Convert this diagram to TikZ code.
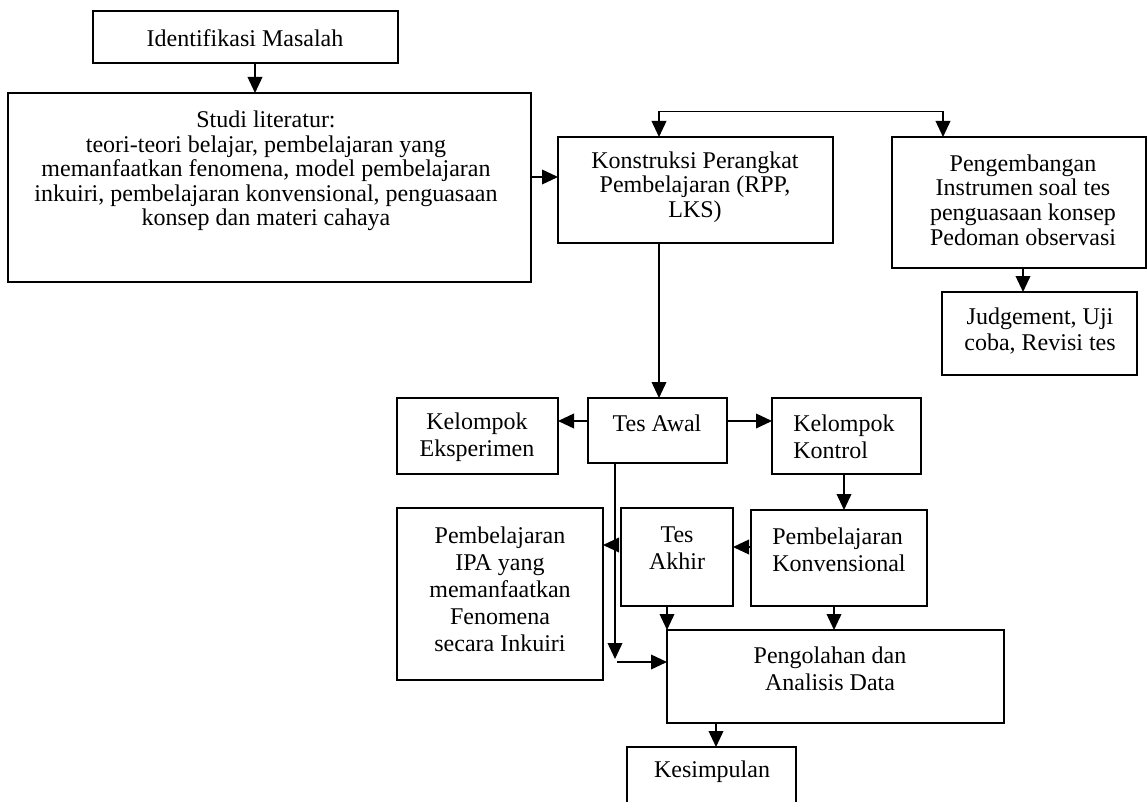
\documentclass[tikz,border=0pt]{standalone}
\usepackage{fontspec}
\setmainfont{Liberation Serif}
\usetikzlibrary{arrows.meta}
\newcommand\mybox[5]{\node[boxs, minimum width={(#4-#2)*0.75pt}, minimum height={(#5-#3)*0.75pt}] (#1) at ({(#2+#4)/2},{(#3+#5)/2}) {};}
\begin{document}
\begin{tikzpicture}[x=0.75pt,y=-0.75pt,
  boxs/.style={draw, line width=1.2pt, inner sep=0pt, outer sep=0pt, rectangle},
  txt/.style={inner sep=0pt, align=center, font=\fontsize{18pt}{18.4pt}\selectfont},
  txtw/.style={inner sep=0pt, align=center, font=\fontsize{18pt}{20.2pt}\selectfont},
  txtl/.style={inner sep=0pt, align=left, anchor=west, font=\fontsize{18pt}{20.2pt}\selectfont},
  arr/.style={line width=1.2pt, -{Triangle[length=12pt,width=11pt]}},
  arrb/.style={line width=1.2pt, {Triangle[length=12pt,width=11pt]}-{Triangle[length=12pt,width=11pt]}},
  ln/.style={line width=1.2pt}]
\useasboundingbox (0,0) rectangle (1148,802);
% boxes
\mybox{idm}{93}{11}{398}{63}
\mybox{studi}{8}{93}{531}{282}
\mybox{kon}{558}{137}{833}{243}
\mybox{peng}{892}{137}{1146}{268}
\mybox{judg}{942}{292}{1137}{375}
\mybox{tesawal}{588}{398}{727}{463}
\mybox{eksp}{397}{398}{558}{474}
\mybox{kontrol}{772}{398}{921}{474}
\mybox{ipa}{397}{508}{603}{680}
\mybox{akhir}{621}{508}{733}{606}
\mybox{konv}{751}{510}{927}{606}
\mybox{olah}{667}{630}{1004}{723}
\coordinate (kesTL) at (627,747);
\coordinate (kesTR) at (796,747);
\coordinate (kesBL) at (627,802);
\coordinate (kesBR) at (796,802);
\draw[ln] (kesBL) -- (kesTL) -- (kesTR) -- (kesBR);
% texts
\node[txt] (idmT) at (245,38) {Identifikasi Masalah};
\node[txt] (studiT) at (266,171) {Studi literatur:\\teori-teori belajar, pembelajaran yang\\memanfaatkan fenomena, model pembelajaran\\inkuiri, pembelajaran konvensional, penguasaan\\konsep dan materi cahaya};
\node[txt] (konT) at (695,187) {Konstruksi Perangkat\\Pembelajaran (RPP,\\LKS)};
\node[txt] (pengT) at (1023,200) {Pengembangan\\Instrumen soal tes\\penguasaan konsep\\Pedoman observasi};
\node[txtw] (judgT) at (1040,331) {Judgement, Uji\\coba, Revisi tes};
\node[txt] (tesawalT) at (657,423) {Tes Awal};
\node[txtw] (ekspT) at (477,437) {Kelompok\\Eksperimen};
\node[txtl] (kontrolT) at (793,437) {Kelompok\\Kontrol};
\node[txtw] (ipaT) at (500,589) {Pembelajaran\\IPA yang\\memanfaatkan\\Fenomena\\secara Inkuiri};
\node[txtw] (akhirT) at (677,548) {Tes\\Akhir};
\node[txtl] (konvT) at (772,550) {Pembelajaran\\Konvensional};
\node[txtw] (olahT) at (830,669) {Pengolahan dan\\Analisis Data};
\node[txt] (kesT) at (712,772) {Kesimpulan};
% connectors
\coordinate (c1) at (255,0);
\draw[arr] (idm.south -| c1) -- (studi.north -| c1);
\coordinate (c2) at (0,177);
\draw[arr] (studi.east |- c2) -- (kon.west |- c2);
\coordinate (t1) at (659,111.6);
\coordinate (t2) at (943,111.6);
\draw[arrb] (t1 |- kon.north) -- (t1) -- (t2) -- (t2 |- peng.north);
\coordinate (c3) at (1023,0);
\draw[arr] (peng.south -| c3) -- (judg.north -| c3);
\coordinate (c4) at (659,0);
\draw[arr] (kon.south -| c4) -- (tesawal.north -| c4);
\coordinate (c5) at (0,421);
\draw[arr] (tesawal.west |- c5) -- (eksp.east |- c5);
\draw[arr] (tesawal.east |- c5) -- (kontrol.west |- c5);
\coordinate (c6) at (844,0);
\draw[arr] (kontrol.south -| c6) -- (konv.north -| c6);
\coordinate (c7) at (0,547);
\draw[arr] (konv.west |- c7) -- (akhir.east |- c7);
\coordinate (c8) at (667,0);
\draw[arr] (akhir.south -| c8) -- (olah.north -| c8);
\coordinate (c9) at (834,0);
\draw[arr] (konv.south -| c9) -- (olah.north -| c9);
\coordinate (v1) at (615,659);
\draw[arr] (tesawal.south -| v1) -- (v1);
\coordinate (v2) at (615,545);
\draw[arr] (v2) -- (ipa.east |- v2);
\coordinate (h1) at (617,662);
\draw[arr] (h1) -- (olah.west |- h1);
\coordinate (c10) at (716,0);
\draw[arr] (olah.south -| c10) -- (kesTL -| c10);
\end{tikzpicture}
\end{document}
